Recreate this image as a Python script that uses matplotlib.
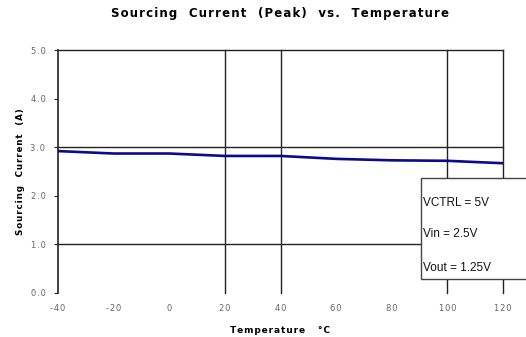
import matplotlib
matplotlib.use("Agg")
import matplotlib.pyplot as plt
from matplotlib.patches import Rectangle

temps = [-40, -20, 0, 20, 40, 60, 80, 100, 120]
current = [2.92, 2.87, 2.87, 2.82, 2.82, 2.76, 2.73, 2.72, 2.67]
xticks = [-40, -20, 0, 20, 40, 60, 80, 100, 120]
yticks = [0.0, 1.0, 2.0, 3.0, 4.0, 5.0]
vgrid = [20, 40, 100, 120]
hgrid = [1.0, 3.0, 5.0]
notes = ["VCTRL = 5V", "Vin = 2.5V", "Vout = 1.25V"]
title = "Sourcing  Current  (Peak)  vs.  Temperature"
xlabel = "Temperature   \u00b0C"
ylabel = "Sourcing  Current  (A)"

plt.rcParams["font.family"] = ["Liberation Sans", "DejaVu Sans"]
SP = "\u200a"


def spaced(s):
    return SP.join(s)


fig = plt.figure(figsize=(5.26, 3.37), dpi=100)
ax = fig.add_axes([58/526, 1-293/337, (503-58)/526, (293-50)/337])

for v in vgrid:
    ax.axvline(v, color="#222222", lw=1.0, zorder=1, clip_on=False)
for h in hgrid:
    ax.axhline(h, color="#222222", lw=1.0, zorder=1, clip_on=False)

ax.plot(temps, current, color="#0a0a8c", lw=1.9, zorder=3)

ax.set_xlim(-40, 120)
ax.set_ylim(0, 5)
ax.set_xticks(xticks)
ax.set_xticklabels([spaced(f"{t}") for t in xticks], family=["DejaVu Sans"])
ax.set_yticks(yticks)
ax.set_yticklabels([spaced(f"{y:.1f}") for y in yticks], family=["DejaVu Sans"])
for s in ["top", "right", "bottom"]:
    ax.spines[s].set_visible(False)
ax.spines["left"].set_color("#222222")
ax.spines["left"].set_linewidth(1.2)
ax.tick_params(axis="y", length=3, width=0.8, labelsize=6, colors="#222222", labelcolor="#666666", pad=6)
ax.tick_params(axis="x", length=0, labelsize=6, labelcolor="#666666", pad=8)

ax.set_xlabel(spaced(xlabel), fontsize=6.5, fontweight="bold", labelpad=9, family=["DejaVu Sans"])
ax.set_ylabel(spaced(ylabel), fontsize=6.3, fontweight="bold", labelpad=4, family=["DejaVu Sans"])

bbox = ax.get_position()
fig.text((bbox.x0 + bbox.x1) / 2, 1-14/337, spaced(title), ha="center", va="center",
         fontsize=8.5, fontweight="bold", family=["DejaVu Sans"])

rect = Rectangle((421/526, 1-279/337), 110/526, 101/337, transform=fig.transFigure,
                 facecolor="white", edgecolor="#444444", lw=1.0, zorder=5)
fig.patches.append(rect)
for txt, yp in zip(notes, [203, 234, 268]):
    fig.text(423/526, 1-yp/337, txt, ha="left", va="center", fontsize=8.5, color="#111111", zorder=6)

fig.savefig("out.png", dpi=100)
